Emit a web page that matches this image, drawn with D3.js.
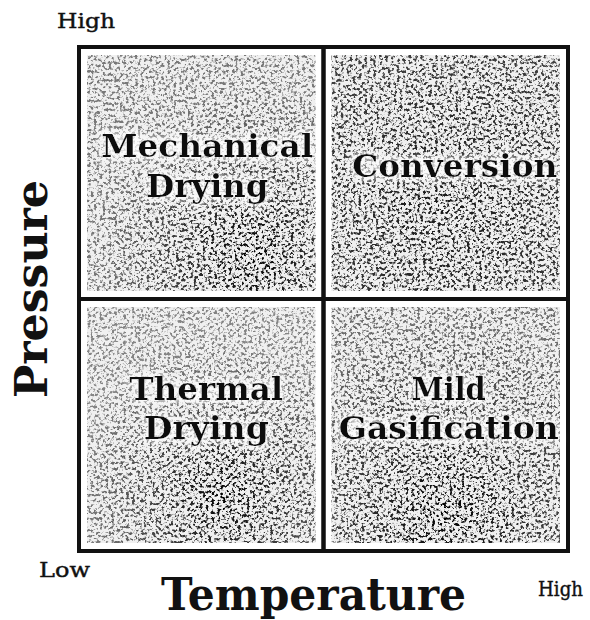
<!DOCTYPE html>
<html>
<head>
<meta charset="utf-8">
<script src="https://cdn.jsdelivr.net/npm/d3@7"></script>
<style>
  html, body { margin: 0; padding: 0; background: #fff; }
  svg { display: block; }
</style>
</head>
<body>
<svg id="chart" width="590" height="620"></svg>
<script>
// ---- data ----
const temperatureLevels = ["Low", "High"];
const pressureLevels = ["High", "Low"];
const quadrantTemperature = ["Low", "High", "Low", "High"];
const quadrantPressure = ["High", "High", "Low", "Low"];
const quadrantLabels = [
  ["Mechanical", "Drying"],
  ["Conversion"],
  ["Thermal", "Drying"],
  ["Mild", "Gasification"]
];
const xAxisTitle = "Temperature";
const yAxisTitle = "Pressure";
const xTickLabels = ["Low", "High"];
const yTickLabels = ["High"];

// ---- layout / style ----
const W = 590, H = 620;
const box = { left: 79, right: 568, top: 47, bottom: 551 };
const fontFamily = "'DejaVu Serif', 'Liberation Serif', serif";
// per-quadrant text layout: baseline offsets from band centre, target widths
const labelLayout = [
  { dx: 6, baselines: [-16, 24], widths: [212, 122] },
  { dx: 9, baselines: [4], widths: [205] },
  { dx: 5, baselines: [-25, 14], widths: [154, 125] },
  { dx: 3, baselines: [-25, 14], widths: [74, 220] }
];
// speckle density gradients per quadrant
const densityStyle = [
  { cx: 0.72, cy: 0.85, r: 0.7, inner: 1.0, outer: 0.5 },
  { cx: 0.5, cy: 0.65, r: 0.9, inner: 0.9, outer: 0.7 },
  { cx: 0.6, cy: 0.8, r: 0.65, inner: 1.0, outer: 0.45 },
  { cx: 0.5, cy: 0.88, r: 0.8, inner: 1.0, outer: 0.55 }
];

const svg = d3.select("#chart");
const defs = svg.append("defs");

const x = d3.scaleBand().domain(temperatureLevels).range([box.left, box.right]);
const y = d3.scaleBand().domain(pressureLevels).range([box.top, box.bottom]);

// speckle filter
const f = defs.append("filter").attr("id", "speckle")
  .attr("filterUnits", "userSpaceOnUse")
  .attr("x", 0).attr("y", 0).attr("width", W).attr("height", H)
  .attr("color-interpolation-filters", "sRGB");
f.append("feTurbulence").attr("type", "fractalNoise")
  .attr("baseFrequency", 0.34).attr("numOctaves", 3).attr("seed", 11).attr("result", "noise");
f.append("feColorMatrix").attr("in", "noise").attr("type", "matrix")
  .attr("values", "0 0 0 0 0.3  0 0 0 0 0.3  0 0 0 0 0.3  6 0 0 0 -3.0")
  .attr("result", "dots");
f.append("feComposite").attr("in", "dots").attr("in2", "SourceGraphic")
  .attr("operator", "arithmetic").attr("k1", 1).attr("k2", 0).attr("k3", 0).attr("k4", 0);

// soft white glow behind labels
const glow = defs.append("filter").attr("id", "glow")
  .attr("x", -0.2).attr("y", -0.5).attr("width", 1.4).attr("height", 2);
glow.append("feMorphology").attr("in", "SourceAlpha").attr("operator", "dilate").attr("radius", 3).attr("result", "d");
glow.append("feGaussianBlur").attr("in", "d").attr("stdDeviation", 3).attr("result", "b");
glow.append("feFlood").attr("flood-color", "#fff").attr("flood-opacity", 0.75);
glow.append("feComposite").attr("in2", "b").attr("operator", "in").attr("result", "halo");
const gm = glow.append("feMerge");
gm.append("feMergeNode").attr("in", "halo");
gm.append("feMergeNode").attr("in", "SourceGraphic");

const quads = quadrantTemperature.map((t, i) => ({
  t, p: quadrantPressure[i], lines: quadrantLabels[i], layout: labelLayout[i], dens: densityStyle[i], i
}));

quads.forEach(q => {
  const g = defs.append("radialGradient").attr("id", "dens" + q.i)
    .attr("cx", q.dens.cx).attr("cy", q.dens.cy).attr("r", q.dens.r);
  g.append("stop").attr("offset", 0).attr("stop-color", "#000").attr("stop-opacity", q.dens.inner);
  g.append("stop").attr("offset", 1).attr("stop-color", "#000").attr("stop-opacity", q.dens.outer);
});

// faint grey base + speckle texture
const inset = 8;
svg.append("g").selectAll("rect").data(quads).join("rect")
  .attr("x", d => x(d.t) + inset)
  .attr("y", d => y(d.p) + inset)
  .attr("width", x.bandwidth() - 2 * inset)
  .attr("height", y.bandwidth() - 2 * inset)
  .attr("fill", "#000").attr("fill-opacity", 0.06);
svg.append("g").attr("filter", "url(#speckle)")
  .selectAll("rect").data(quads).join("rect")
  .attr("x", d => x(d.t) + inset)
  .attr("y", d => y(d.p) + inset)
  .attr("width", x.bandwidth() - 2 * inset)
  .attr("height", y.bandwidth() - 2 * inset)
  .attr("fill", d => `url(#dens${d.i})`);

// quadrant frames
svg.append("g").selectAll("rect").data(quads).join("rect")
  .attr("x", d => x(d.t)).attr("y", d => y(d.p))
  .attr("width", x.bandwidth()).attr("height", y.bandwidth())
  .attr("fill", "none").attr("stroke", "#111").attr("stroke-width", 4);
svg.append("rect")
  .attr("x", box.left).attr("y", box.top)
  .attr("width", box.right - box.left).attr("height", box.bottom - box.top)
  .attr("fill", "none").attr("stroke", "#111").attr("stroke-width", 4);

// quadrant labels
const lab = svg.append("g").attr("font-family", fontFamily).attr("font-weight", "bold")
  .attr("font-size", 31).attr("fill", "#111").attr("text-anchor", "middle")
  .attr("filter", "url(#glow)");
quads.forEach(q => {
  const cx = x(q.t) + x.bandwidth() / 2 + q.layout.dx;
  const cy = y(q.p) + y.bandwidth() / 2;
  q.lines.forEach((line, j) => {
    lab.append("text")
      .attr("x", cx).attr("y", cy + q.layout.baselines[j])
      .attr("textLength", q.layout.widths[j]).attr("lengthAdjust", "spacingAndGlyphs")
      .text(line);
  });
});

// axis end labels
const small = svg.append("g").attr("font-family", fontFamily).attr("font-size", 20)
  .attr("fill", "#111").attr("stroke", "#111").attr("stroke-width", 0.4);
small.append("text").attr("x", 57).attr("y", 28)
  .attr("textLength", 58).attr("lengthAdjust", "spacingAndGlyphs").text(yTickLabels[0]);
small.append("text").attr("x", 39).attr("y", 577)
  .attr("textLength", 51).attr("lengthAdjust", "spacingAndGlyphs").text(xTickLabels[0]);
small.append("text").attr("x", 538).attr("y", 596)
  .attr("textLength", 45).attr("lengthAdjust", "spacingAndGlyphs").text(xTickLabels[1]);

// axis titles
svg.append("text").attr("font-family", fontFamily).attr("font-weight", "bold")
  .attr("font-size", 45).attr("fill", "#111").attr("text-anchor", "middle")
  .attr("x", (box.left + box.right) / 2 - 10).attr("y", 610)
  .attr("textLength", 305).attr("lengthAdjust", "spacingAndGlyphs")
  .text(xAxisTitle);
svg.append("text").attr("font-family", fontFamily).attr("font-weight", "bold")
  .attr("font-size", 44).attr("fill", "#111").attr("text-anchor", "middle")
  .attr("transform", `translate(47, ${(box.top + box.bottom) / 2 - 10}) rotate(-90)`)
  .attr("textLength", 218).attr("lengthAdjust", "spacingAndGlyphs")
  .text(yAxisTitle);
</script>
</body>
</html>
